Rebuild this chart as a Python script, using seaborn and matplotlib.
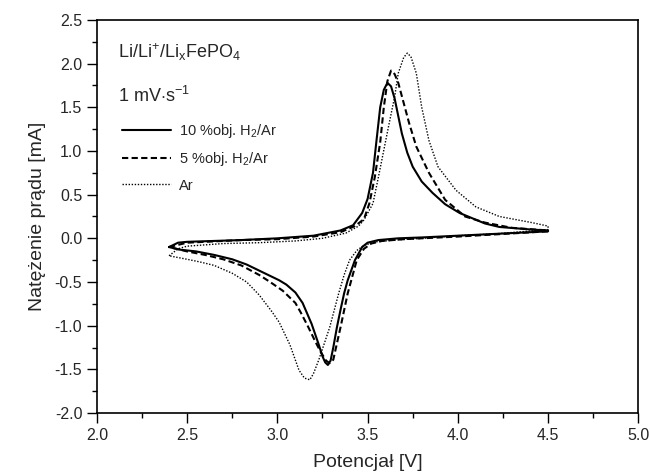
import matplotlib
matplotlib.use("Agg")
import matplotlib.pyplot as plt
import seaborn as sns
import pandas as pd

# cyclic voltammograms, values (V, mA), in sweep order
v_10 = [2.40, 2.45, 2.50, 2.65, 2.80, 3.00, 3.20, 3.35, 3.42, 3.47, 3.50, 3.53, 3.55, 3.57,
        3.59, 3.61, 3.63, 3.65, 3.67, 3.69, 3.72, 3.75, 3.80, 3.86, 3.93, 4.01, 4.15, 4.23, 4.41, 4.50,
        4.50, 4.20, 4.00, 3.80, 3.67, 3.56, 3.50, 3.47, 3.43, 3.39, 3.37, 3.35, 3.33, 3.31, 3.295,
        3.28, 3.265, 3.25, 3.23, 3.19, 3.14, 3.10, 3.05, 3.01, 2.96, 2.90, 2.83, 2.75, 2.65, 2.55,
        2.46, 2.40]
i_10 = [-0.10, -0.05, -0.04, -0.03, -0.02, 0.00, 0.03, 0.09, 0.15, 0.29, 0.45, 0.75, 1.13, 1.50,
        1.70, 1.78, 1.74, 1.60, 1.40, 1.20, 0.98, 0.82, 0.65, 0.52, 0.39, 0.29, 0.17, 0.13, 0.10, 0.09,
        0.08, 0.05, 0.03, 0.01, 0.00, -0.02, -0.05, -0.10, -0.25, -0.48, -0.63, -0.82, -1.02, -1.25, -1.40,
        -1.45, -1.42, -1.35, -1.22, -0.98, -0.74, -0.62, -0.53, -0.48, -0.43, -0.37, -0.30, -0.24, -0.19, -0.15,
        -0.13, -0.10]

v_5 = [2.40, 2.50, 2.80, 3.00, 3.20, 3.35, 3.43, 3.48, 3.51, 3.54, 3.57, 3.59, 3.61, 3.63,
       3.65, 3.67, 3.70, 3.73, 3.77, 3.84, 3.93, 4.04, 4.15, 4.30, 4.50,
       4.50, 4.00, 3.70, 3.58, 3.52, 3.48, 3.44, 3.39, 3.35, 3.31, 3.29, 3.27, 3.24, 3.21, 3.17,
       3.13, 3.10, 3.06, 3.03, 2.96, 2.90, 2.80, 2.70, 2.60, 2.50, 2.40]
i_5 = [-0.10, -0.05, -0.02, -0.01, 0.02, 0.07, 0.14, 0.22, 0.40, 0.70, 1.10, 1.50, 1.80, 1.92,
       1.88, 1.78, 1.55, 1.32, 1.05, 0.75, 0.44, 0.25, 0.18, 0.12, 0.09,
       0.08, 0.02, -0.01, -0.03, -0.06, -0.12, -0.25, -0.63, -1.02, -1.39, -1.43, -1.40, -1.30, -1.18, -1.01,
       -0.85, -0.74, -0.66, -0.60, -0.50, -0.42, -0.31, -0.24, -0.19, -0.15, -0.10]

v_ar = [2.40, 2.45, 2.50, 2.70, 2.90, 3.10, 3.25, 3.38, 3.45, 3.48, 3.53, 3.56, 3.59, 3.62,
        3.65, 3.67, 3.70, 3.72, 3.74, 3.77, 3.80, 3.84, 3.89, 3.99, 4.10, 4.23, 4.41, 4.50,
        4.50, 4.20, 4.00, 3.80, 3.65, 3.55, 3.48, 3.44, 3.40, 3.37, 3.34, 3.29, 3.23, 3.20,
        3.18, 3.15, 3.12, 3.07, 3.01, 2.97, 2.90, 2.83, 2.75, 2.65, 2.57, 2.50, 2.45, 2.40]
i_ar = [-0.20, -0.12, -0.09, -0.06, -0.05, -0.03, 0.00, 0.06, 0.14, 0.21, 0.40, 0.70, 1.01, 1.32,
        1.62, 1.89, 2.07, 2.12, 2.08, 1.89, 1.50, 1.12, 0.82, 0.55, 0.36, 0.25, 0.18, 0.14,
        0.10, 0.05, 0.03, 0.00, -0.02, -0.04, -0.08, -0.14, -0.25, -0.42, -0.63, -1.02, -1.39, -1.55,
        -1.62, -1.60, -1.51, -1.22, -0.96, -0.84, -0.65, -0.50, -0.40, -0.31, -0.27, -0.24, -0.22, -0.20]

labels = ["10 %obj. H$_2$/Ar", "5 %obj. H$_2$/Ar", "Ar"]

sns.set_theme(style="ticks")
plt.rcParams["font.family"] = ["Liberation Sans", "DejaVu Sans"]
plt.rcParams["mathtext.fontset"] = "custom"
plt.rcParams["mathtext.rm"] = "Liberation Sans"
plt.rcParams["mathtext.it"] = "Liberation Sans:italic"
plt.rcParams["axes.unicode_minus"] = False

fig = plt.figure(figsize=(6.5, 4.75), dpi=100)
ax = fig.add_axes([0.149, 0.1305, 0.833, 0.8275])

styles = [("-", 1.5), ((0, (3, 1.6)), 1.5), ((0, (1, 1.2)), 1.0)]
for (vv, ii), lab, (ls, lw) in zip([(v_10, i_10), (v_5, i_5), (v_ar, i_ar)], labels, styles):
    df = pd.DataFrame({"V": vv, "I": ii})
    sns.lineplot(data=df, x="V", y="I", sort=False, estimator=None, ax=ax,
                 color="black", linestyle=ls, linewidth=lw, label=lab)

ax.set_xlim(2.0, 5.0)
ax.set_ylim(-2.0, 2.5)
ax.set_xticks([2.0, 2.5, 3.0, 3.5, 4.0, 4.5, 5.0])
ax.set_yticks([-2.0, -1.5, -1.0, -0.5, 0.0, 0.5, 1.0, 1.5, 2.0, 2.5])
ax.set_xticks([2.25, 2.75, 3.25, 3.75, 4.25, 4.75], minor=True)
ax.set_yticks([-1.75, -1.25, -0.75, -0.25, 0.25, 0.75, 1.25, 1.75, 2.25], minor=True)
ax.tick_params(which="major", direction="out", length=7, width=1.0, labelsize=11.5, color="black")
ax.tick_params(which="minor", direction="out", length=3.5, width=1.0, color="black")
for s in ax.spines.values():
    s.set_linewidth(1.2)
    s.set_color("black")

ax.set_xlabel("Potencjał [V]", fontsize=14, labelpad=8)
ax.set_ylabel("Natężenie prądu [mA]", fontsize=14, labelpad=6)

ax.text(0.039, 0.903, "Li/Li$^{+}$/Li$_{\\mathrm{x}}$FePO$_{4}$", transform=ax.transAxes, fontsize=13)
ax.text(0.039, 0.791, "1 mV$\\cdot$s$^{-1}$", transform=ax.transAxes, fontsize=13)

ax.legend(loc="upper left", bbox_to_anchor=(0.035, 0.755), frameon=False, fontsize=10.5,
          handlelength=3.4, handletextpad=0.5, labelspacing=0.7, borderaxespad=0)

fig.savefig("out.png", dpi=100)
